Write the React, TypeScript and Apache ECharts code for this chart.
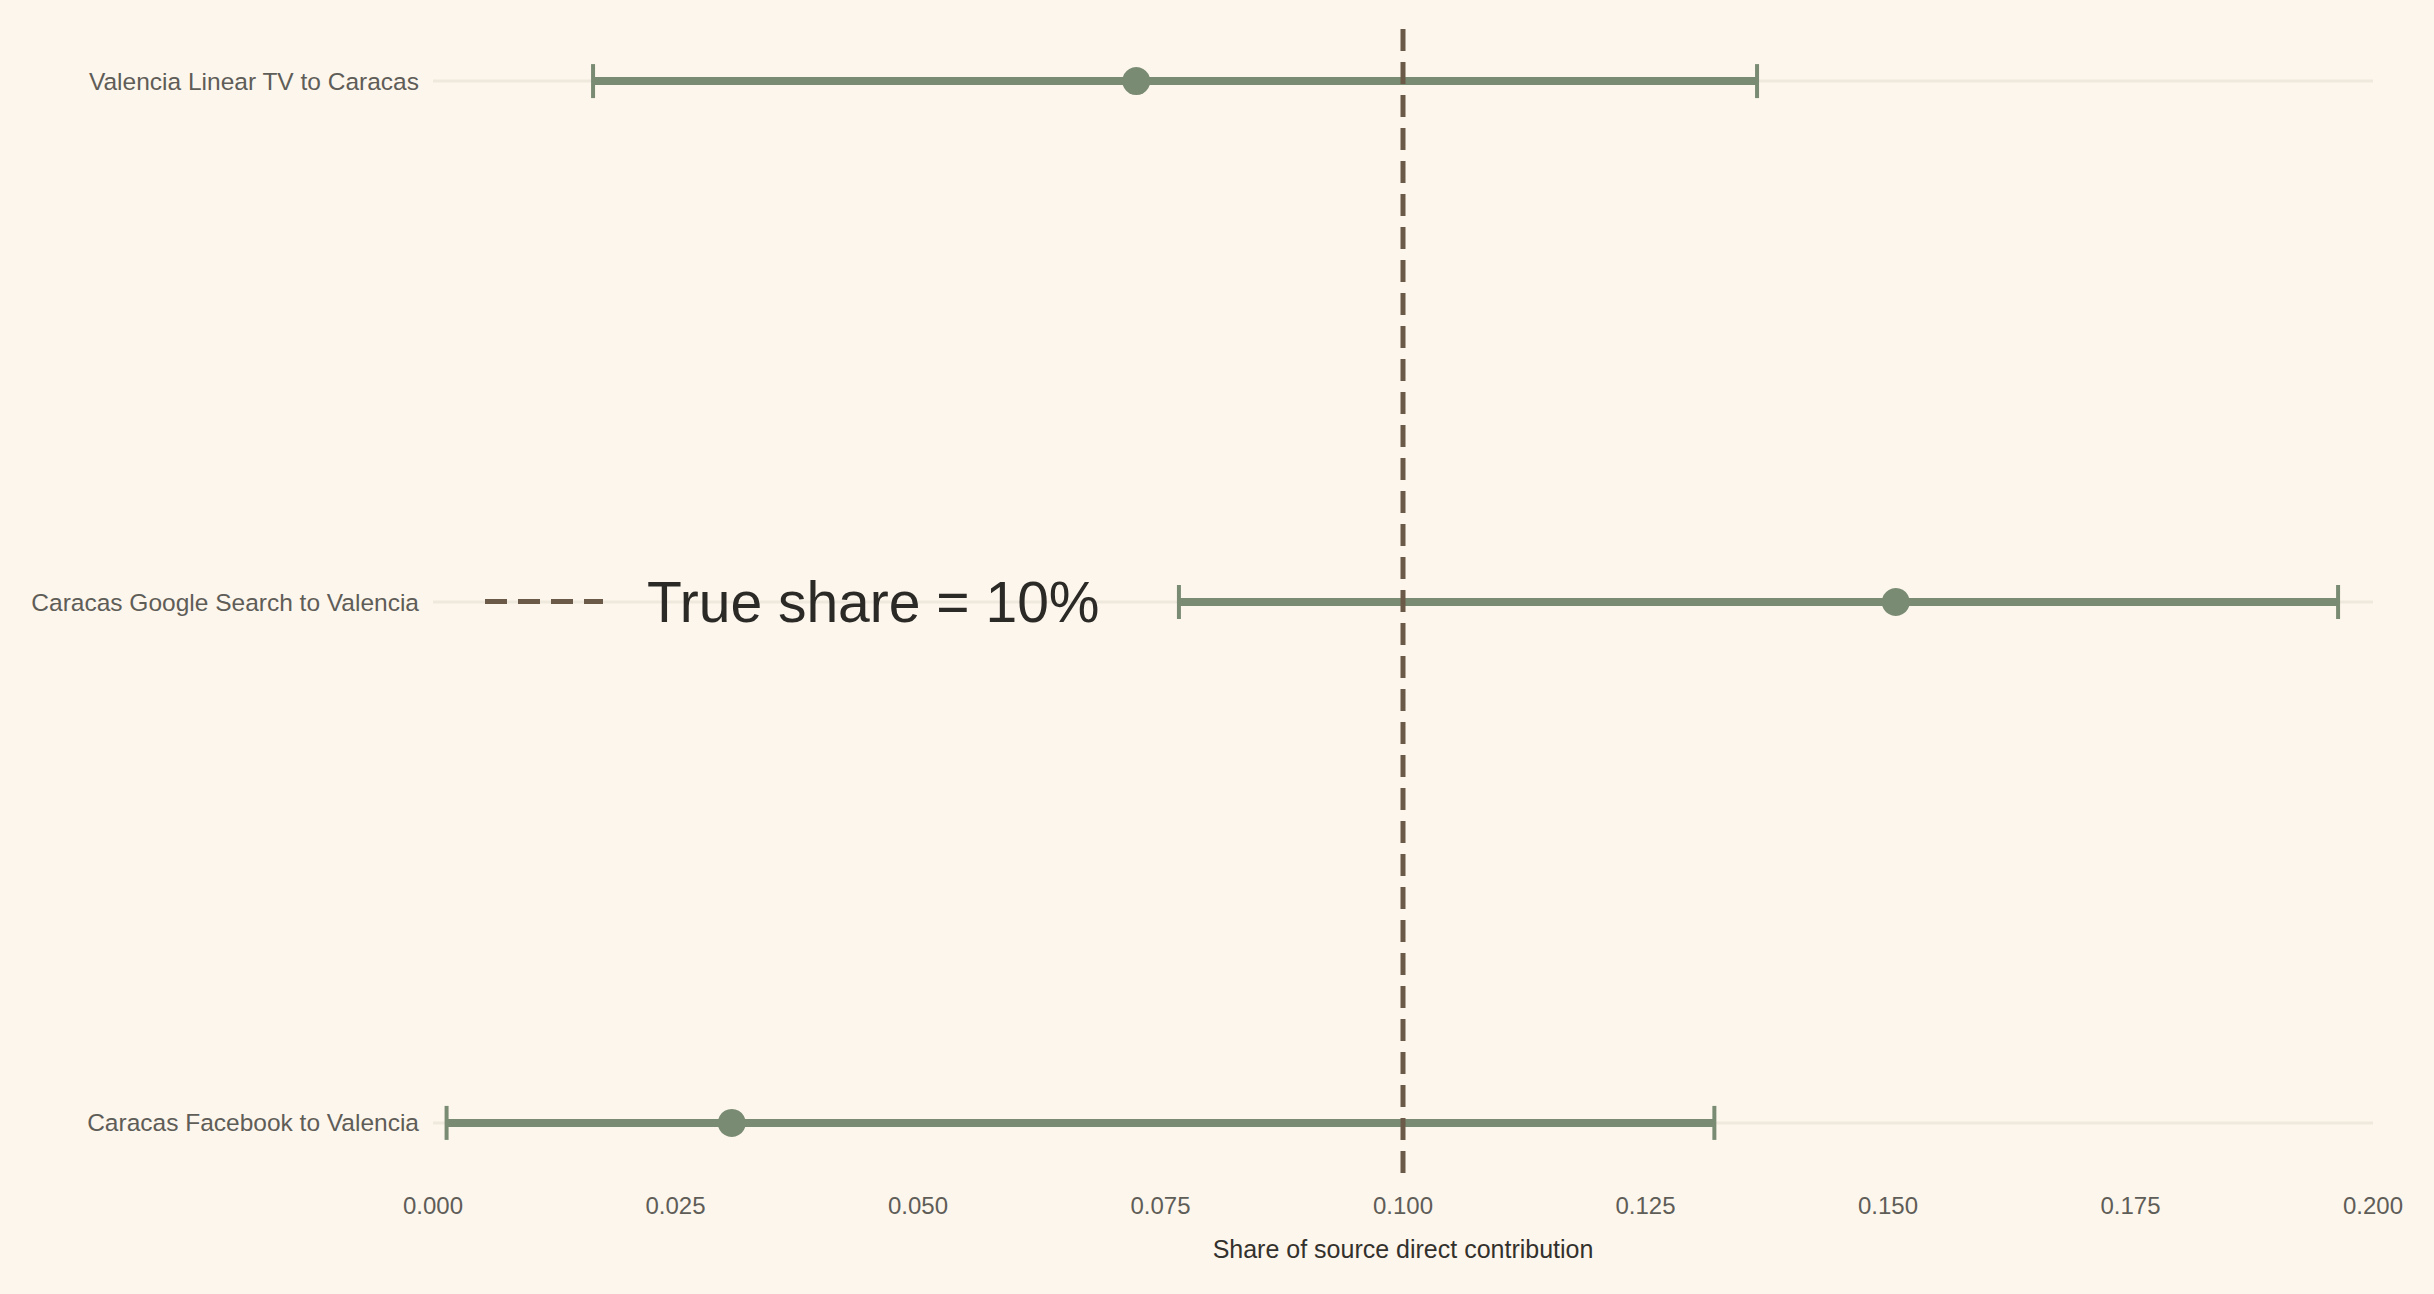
import React, { useEffect, useRef } from "react";
import * as echarts from "echarts";

const categories = [
  "Caracas Facebook to Valencia",
  "Caracas Google Search to Valencia",
  "Valencia Linear TV to Caracas",
];
const lowValues = [0.0014, 0.0769, 0.0165];
const estimateValues = [0.0308, 0.1508, 0.0725];
const highValues = [0.1321, 0.1964, 0.1365];
const trueShare = 0.1;
const trueShareLabel = "True share = 10%";
const xMin = 0;
const xMax = 0.2;
const xInterval = 0.025;
const yMin = -0.1;
const yMax = 2.1;
const rowIndices = [0, 1, 2];
const xTitle = "Share of source direct contribution";

const BG = "#fdf6ec";
const GREEN = "#7a8b73";
const BROWN = "#6b5a48";
const GRID = "#efe8dc";
const FONT = "'Liberation Sans', Arial, Helvetica, sans-serif";

const DASH_ICON =
  "path://M0,0h22v5h-22z M33,0h22v5h-22z M66,0h22v5h-22z M99,0h19v5h-19z";

export default function App() {
  const ref = useRef<HTMLDivElement>(null);

  useEffect(() => {
    if (!ref.current) return;
    const chart = echarts.init(ref.current, undefined, { renderer: "svg" });

    const errData = categories.map((_, i) => [
      lowValues[i],
      estimateValues[i],
      highValues[i],
      rowIndices[i],
    ]);

    const option: any = {
      animation: false,
      backgroundColor: BG,
      textStyle: { fontFamily: FONT },
      grid: { left: 433, right: 61, top: 29, bottom: 119, containLabel: false },
      legend: {
        show: true,
        data: [{ name: trueShareLabel, icon: DASH_ICON }],
        left: 485,
        top: 573,
        padding: 0,
        selectedMode: false,
        itemWidth: 118,
        itemHeight: 5,
        itemStyle: { color: BROWN, borderWidth: 0 },
        textStyle: {
          fontFamily: FONT,
          fontSize: 57,
          lineHeight: 57,
          color: "#2b2a27",
          padding: [0, 0, 0, 39],
        },
      },
      xAxis: {
        type: "value",
        min: xMin,
        max: xMax,
        interval: xInterval,
        axisLine: { show: false },
        axisTick: { show: false },
        splitLine: { show: false },
        axisLabel: {
          formatter: (v: number) => v.toFixed(3),
          fontSize: 24,
          color: "#5f5d58",
          margin: 18,
          fontFamily: FONT,
        },
        name: xTitle,
        nameLocation: "middle",
        nameGap: 61,
        nameTextStyle: { fontSize: 25, color: "#33312d", fontFamily: FONT },
      },
      yAxis: {
        type: "value",
        min: yMin,
        max: yMax,
        axisLine: { show: false },
        axisTick: { show: false },
        splitLine: { show: false },
        axisLabel: {
          customValues: rowIndices,
          formatter: (v: number) => categories[Math.round(v)] ?? "",
          fontSize: 24.5,
          color: "#5f5d58",
          margin: 14,
          fontFamily: FONT,
        },
      },
      series: [
        {
          type: "custom",
          name: "intervals",
          z: 2,
          encode: { x: [0, 1, 2], y: 3 },
          data: errData,
          renderItem: (params: any, api: any) => {
            const idx = api.value(3);
            const lo = api.coord([api.value(0), idx]);
            const est = api.coord([api.value(1), idx]);
            const hi = api.coord([api.value(2), idx]);
            const g0 = api.coord([xMin, idx]);
            const g1 = api.coord([xMax, idx]);
            const capH = 17;
            return {
              type: "group",
              children: [
                {
                  type: "line",
                  shape: { x1: g0[0], y1: g0[1], x2: g1[0], y2: g1[1] },
                  style: { stroke: GRID, lineWidth: 3 },
                },
                {
                  type: "line",
                  shape: { x1: lo[0], y1: lo[1], x2: hi[0], y2: hi[1] },
                  style: { stroke: GREEN, lineWidth: 8 },
                },
                {
                  type: "line",
                  shape: { x1: lo[0], y1: lo[1] - capH, x2: lo[0], y2: lo[1] + capH },
                  style: { stroke: GREEN, lineWidth: 4 },
                },
                {
                  type: "line",
                  shape: { x1: hi[0], y1: hi[1] - capH, x2: hi[0], y2: hi[1] + capH },
                  style: { stroke: GREEN, lineWidth: 4 },
                },
                {
                  type: "circle",
                  shape: { cx: est[0], cy: est[1], r: 14 },
                  style: { fill: GREEN },
                },
              ],
            };
          },
        },
        {
          type: "line",
          name: trueShareLabel,
          z: 3,
          symbol: "none",
          showSymbol: false,
          silent: true,
          color: BROWN,
          lineStyle: { color: BROWN, width: 5, type: [22, 11] },
          data: [
            [trueShare, yMax],
            [trueShare, yMin],
          ],
        },
      ],
    };

    chart.setOption(option);
    return () => {
      chart.dispose();
    };
  }, []);

  return (
    <div
      ref={ref}
      style={{
        position: "fixed",
        left: 0,
        top: 0,
        width: 2434,
        height: 1294,
        background: BG,
      }}
    />
  );
}
